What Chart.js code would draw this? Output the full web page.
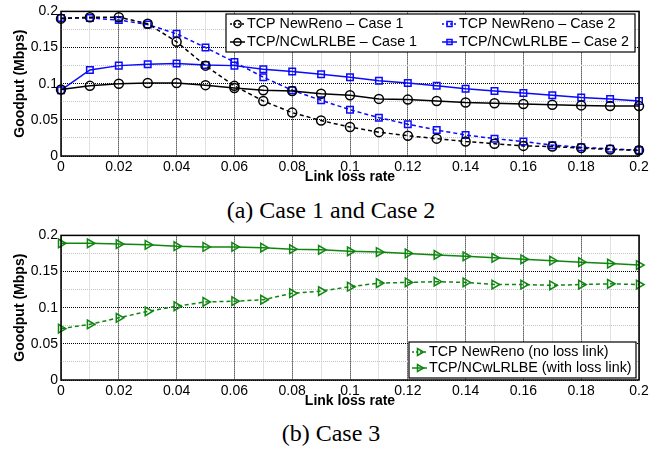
<!DOCTYPE html>
<html>
<head>
<meta charset="utf-8">
<title>Goodput vs link loss rate</title>
<script src="https://cdn.jsdelivr.net/npm/chart.js@4.4.0/dist/chart.umd.min.js"></script>
<style>
  body { margin: 0; width: 662px; height: 450px; background: #fff; position: relative; overflow: hidden; }
  .wrap { position: absolute; left: 0; width: 662px; height: 190px; }
  .caption { position: absolute; left: 0; width: 662px; text-align: center;
             font-family: "Liberation Serif", "Times New Roman", serif; font-size: 24px; line-height: 24px; color: #000; }
</style>
</head>
<body>
<div class="wrap" style="top:0"><canvas id="chartA" width="662" height="190"></canvas></div>
<div class="caption" style="top:198px">(a) Case 1 and Case 2</div>
<div class="wrap" style="top:224px"><canvas id="chartB" width="662" height="190"></canvas></div>
<div class="caption" style="top:421px">(b) Case 3</div>

<script>
// link loss rate (x axis)
const lossRate = [0, 0.01, 0.02, 0.03, 0.04, 0.05, 0.06, 0.07, 0.08, 0.09, 0.1,
                  0.11, 0.12, 0.13, 0.14, 0.15, 0.16, 0.17, 0.18, 0.19, 0.2];

// goodput in Mbps, case 1 and case 2
const newRenoCase1 = [0.190, 0.192, 0.192, 0.183, 0.158, 0.125, 0.097, 0.076, 0.060, 0.049, 0.040,
                      0.033, 0.028, 0.024, 0.020, 0.017, 0.014, 0.013, 0.011, 0.009, 0.008];
const ncwCase1     = [0.092, 0.097, 0.100, 0.101, 0.101, 0.098, 0.094, 0.091, 0.090, 0.086, 0.084,
                      0.079, 0.078, 0.076, 0.074, 0.073, 0.072, 0.071, 0.070, 0.069, 0.069];
const newRenoCase2 = [0.191, 0.191, 0.188, 0.182, 0.169, 0.150, 0.130, 0.109, 0.091, 0.077, 0.064,
                      0.053, 0.044, 0.036, 0.029, 0.024, 0.020, 0.015, 0.012, 0.010, 0.008];
const ncwCase2     = [0.091, 0.119, 0.125, 0.127, 0.128, 0.126, 0.125, 0.120, 0.117, 0.113, 0.109,
                      0.104, 0.101, 0.097, 0.093, 0.090, 0.087, 0.084, 0.081, 0.079, 0.076];

// case 3
const newRenoNoLoss = [0.071, 0.077, 0.086, 0.095, 0.102, 0.108, 0.109, 0.111, 0.120, 0.123, 0.129,
                       0.134, 0.135, 0.136, 0.135, 0.132, 0.132, 0.131, 0.132, 0.133, 0.132];
const ncwWithLoss   = [0.189, 0.189, 0.188, 0.187, 0.185, 0.184, 0.184, 0.183, 0.181, 0.180, 0.178,
                       0.177, 0.175, 0.173, 0.171, 0.169, 0.167, 0.165, 0.163, 0.161, 0.159];

const SANS = '"Liberation Sans", Arial, Helvetica, sans-serif';
const BLUE = '#0a0aff';
const GREEN = '#0f870f';

function points(values) {
    return lossRate.map((x, i) => ({ x: x, y: values[i] }));
}

function series(label, values, color, dashed, style, radius, rotation) {
    return {
        label: label,
        data: points(values),
        borderColor: color,
        borderWidth: 1.5,
        borderDash: dashed ? [4, 3] : [],
        pointStyle: style,
        pointRadius: radius,
        pointRotation: rotation || 0,
        pointBorderColor: color,
        pointBorderWidth: 1.5,
        pointBackgroundColor: 'rgba(0,0,0,0)',
        tension: 0,
        clip: false
    };
}

function fmt(v) {
    return String(+v.toFixed(3));
}

// box around the plot area
const framePlugin = {
    id: 'frame',
    afterDatasetsDraw(chart) {
        const { ctx, chartArea: a } = chart;
        ctx.save();
        ctx.strokeStyle = '#000';
        ctx.lineWidth = 1.5;
        ctx.strokeRect(a.left, a.top, a.right - a.left, a.bottom - a.top);
        ctx.restore();
    }
};

// legend box drawn inside the plot
function boxLegend(box, items) {
    return {
        id: 'boxLegend',
        afterDraw(chart) {
            const ctx = chart.ctx;
            ctx.save();
            ctx.fillStyle = '#fff';
            ctx.fillRect(box.x, box.y, box.w, box.h);
            ctx.strokeStyle = '#000';
            ctx.lineWidth = 1.2;
            ctx.strokeRect(box.x, box.y, box.w, box.h);
            items.forEach(it => {
                const ds = chart.data.datasets[it.index];
                ctx.strokeStyle = ds.borderColor;
                ctx.lineWidth = ds.borderWidth;
                ctx.setLineDash(ds.borderDash.length ? [2, 2] : []);
                ctx.beginPath();
                ctx.moveTo(it.x, it.y);
                ctx.lineTo(it.x + 15, it.y);
                ctx.stroke();
                ctx.setLineDash([]);
                ctx.fillStyle = 'rgba(0,0,0,0)';
                Chart.helpers.drawPoint(ctx, {
                    pointStyle: ds.pointStyle,
                    rotation: ds.pointRotation,
                    radius: box.marker,
                    borderWidth: ds.pointBorderWidth
                }, it.x + 7.5, it.y);
                ctx.fillStyle = '#000';
                ctx.font = '14.3px ' + SANS;
                ctx.textBaseline = 'middle';
                ctx.textAlign = 'left';
                ctx.fillText(ds.label, it.x + 17, it.y + 0.5);
            });
            ctx.restore();
        }
    };
}

function makeOptions() {
    return {
        responsive: false,
        animation: false,
        events: [],
        layout: { padding: { top: 11, right: 23, bottom: 4, left: 0 } },
        plugins: { legend: { display: false }, tooltip: { enabled: false } },
        scales: {
            x: {
                type: 'linear',
                min: 0,
                max: 0.2,
                afterFit: s => { s.height = 30; },
                ticks: {
                    stepSize: 0.01,
                    autoSkip: false,
                    maxRotation: 0,
                    padding: 3,
                    color: '#000',
                    font: { family: SANS, size: 14 },
                    callback: v => (Math.round(v * 100) % 2 === 0 ? fmt(v) : '')
                },
                grid: {
                    drawTicks: false,
                    lineWidth: 1,
                    color: c => (c.tick && Math.round(c.tick.value * 100) % 2 === 0 ? '#000' : '#c4c4c4')
                },
                border: { display: false, dash: [1, 1] },
                title: {
                    display: true,
                    text: 'Link loss rate',
                    color: '#000',
                    padding: { top: 0, bottom: 0 },
                    font: { family: SANS, size: 14, weight: 'bold' }
                }
            },
            y: {
                min: 0,
                max: 0.2,
                afterFit: s => { s.width = 61; },
                ticks: {
                    stepSize: 0.025,
                    autoSkip: false,
                    padding: 3,
                    color: '#000',
                    font: { family: SANS, size: 14 },
                    callback: v => (Math.round(v * 1000) % 50 === 0 ? fmt(v) : '')
                },
                grid: {
                    drawTicks: false,
                    lineWidth: 1,
                    color: c => (c.tick && Math.round(c.tick.value * 1000) % 50 === 0 ? '#000' : '#c4c4c4')
                },
                border: { display: false, dash: [1, 1] },
                title: {
                    display: true,
                    text: 'Goodput (Mbps)',
                    color: '#000',
                    padding: { top: 12, bottom: 0 },
                    font: { family: SANS, size: 14, weight: 'bold' }
                }
            }
        }
    };
}

new Chart(document.getElementById('chartA'), {
    type: 'line',
    data: {
        datasets: [
            series('TCP NewReno – Case 1', newRenoCase1, '#000', true, 'circle', 4.5),
            series('TCP/NCwLRLBE – Case 1', ncwCase1, '#000', false, 'circle', 4.5),
            series('TCP NewReno – Case 2', newRenoCase2, BLUE, true, 'rect', 4.6),
            series('TCP/NCwLRLBE – Case 2', ncwCase2, BLUE, false, 'rect', 4.6)
        ]
    },
    options: makeOptions(),
    plugins: [framePlugin, boxLegend({ x: 226, y: 14, w: 409, h: 38, marker: 3.6 }, [
        { index: 0, x: 230, y: 24 },
        { index: 1, x: 230, y: 42 },
        { index: 2, x: 442, y: 24 },
        { index: 3, x: 442, y: 42 }
    ])]
});

new Chart(document.getElementById('chartB'), {
    type: 'line',
    data: {
        datasets: [
            series('TCP NewReno (no loss link)', newRenoNoLoss, GREEN, true, 'triangle', 5, 90),
            series('TCP/NCwLRLBE (with loss link)', ncwWithLoss, GREEN, false, 'triangle', 5, 90)
        ]
    },
    options: makeOptions(),
    plugins: [framePlugin, boxLegend({ x: 409, y: 118, w: 227, h: 36, marker: 4 }, [
        { index: 0, x: 412, y: 128 },
        { index: 1, x: 412, y: 144 }
    ])]
});
</script>
</body>
</html>
